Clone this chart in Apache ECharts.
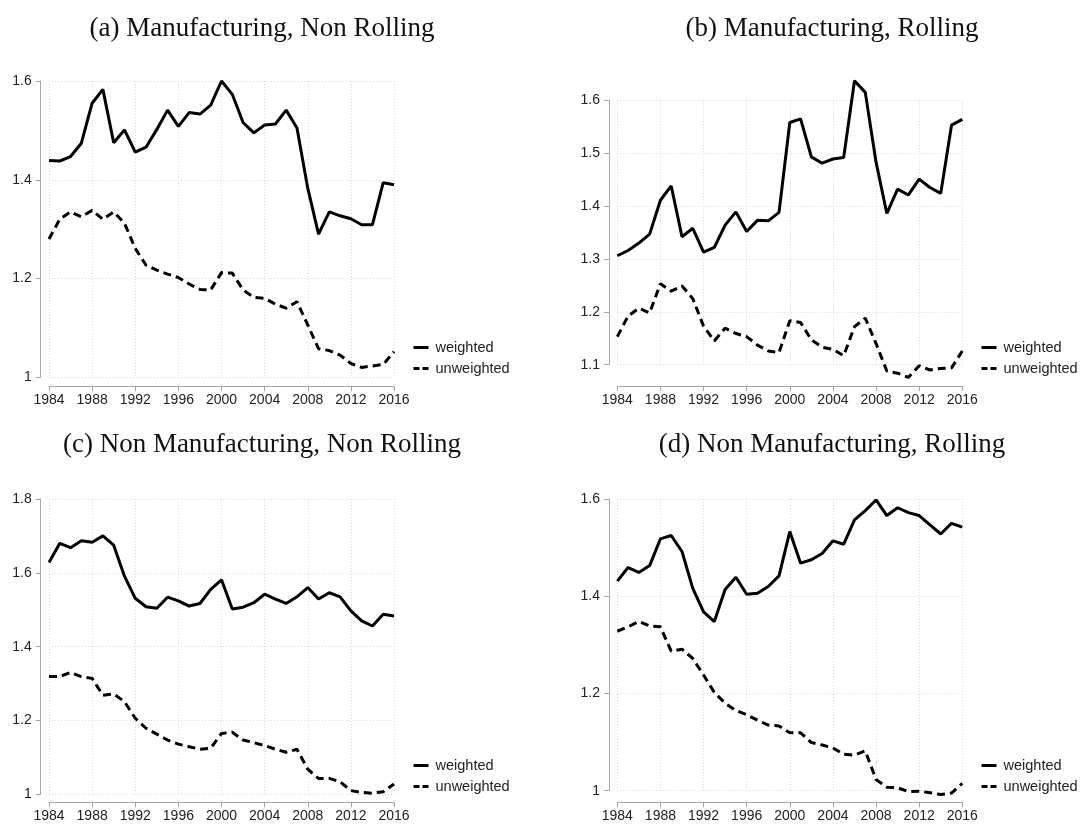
<!DOCTYPE html>
<html>
<head>
<meta charset="utf-8">
<script src="https://cdn.jsdelivr.net/npm/echarts@6/dist/echarts.min.js"></script>
<style>
  html, body { margin: 0; padding: 0; background: #fff; }
  #chart { width: 1084px; height: 826px; }
</style>
</head>
<body>
<div id="chart"></div>
<script>
// Years shown on every panel
const years = [1984,1985,1986,1987,1988,1989,1990,1991,1992,1993,1994,1995,1996,1997,1998,1999,
  2000,2001,2002,2003,2004,2005,2006,2007,2008,2009,2010,2011,2012,2013,2014,2015,2016];

// (a) Manufacturing, Non Rolling
const aWeighted = [1.439,1.438,1.447,1.474,1.555,1.583,1.475,1.501,1.456,1.466,
  1.502,1.541,1.508,1.536,1.533,1.551,1.600,1.573,1.516,1.495,
  1.511,1.513,1.541,1.505,1.383,1.290,1.335,1.327,1.321,1.309,1.309,1.394,1.390];
const aUnweighted = [1.280,1.320,1.335,1.325,1.338,1.320,1.335,1.312,1.261,1.227,
  1.217,1.209,1.202,1.189,1.178,1.177,1.212,1.211,1.177,1.162,
  1.160,1.148,1.140,1.153,1.106,1.058,1.054,1.045,1.028,1.020,1.023,1.026,1.052];

// (b) Manufacturing, Rolling
const bWeighted = [1.306,1.316,1.330,1.347,1.411,1.438,1.342,1.358,1.313,1.322,
  1.364,1.389,1.352,1.373,1.372,1.388,1.558,1.565,1.493,1.481,
  1.489,1.492,1.637,1.615,1.483,1.386,1.432,1.421,1.451,1.435,1.424,1.553,1.564];
const bUnweighted = [1.153,1.192,1.207,1.198,1.253,1.239,1.249,1.225,1.173,1.145,
  1.169,1.159,1.153,1.137,1.126,1.123,1.183,1.180,1.147,1.133,
  1.129,1.117,1.172,1.188,1.140,1.088,1.084,1.076,1.098,1.090,1.093,1.094,1.126];

// (c) Non Manufacturing, Non Rolling
const cWeighted = [1.628,1.680,1.668,1.687,1.683,1.700,1.675,1.591,1.531,1.508,
  1.504,1.534,1.524,1.510,1.517,1.555,1.581,1.502,1.507,1.519,
  1.542,1.529,1.517,1.535,1.560,1.529,1.546,1.535,1.497,1.470,1.456,1.488,1.483];
const cUnweighted = [1.319,1.319,1.330,1.319,1.314,1.268,1.272,1.251,1.206,1.179,
  1.163,1.147,1.136,1.129,1.122,1.125,1.165,1.168,1.147,1.140,
  1.132,1.122,1.114,1.122,1.068,1.043,1.043,1.034,1.010,1.005,1.003,1.007,1.028];

// (d) Non Manufacturing, Rolling
const dWeighted = [1.431,1.459,1.449,1.463,1.518,1.525,1.492,1.416,1.368,1.348,
  1.414,1.439,1.404,1.406,1.420,1.442,1.533,1.468,1.475,1.488,
  1.514,1.507,1.557,1.576,1.598,1.566,1.582,1.572,1.566,1.547,1.528,1.550,1.542];
const dUnweighted = [1.328,1.337,1.348,1.339,1.337,1.287,1.291,1.272,1.238,1.202,
  1.180,1.165,1.156,1.145,1.135,1.133,1.119,1.119,1.099,1.094,
  1.088,1.075,1.073,1.082,1.023,1.007,1.006,0.998,0.999,0.996,0.992,0.995,1.015];

const panelTitles = [
  '(a) Manufacturing, Non Rolling',
  '(b) Manufacturing, Rolling',
  '(c) Non Manufacturing, Non Rolling',
  '(d) Non Manufacturing, Rolling'
];
const seriesNames = ['weighted', 'unweighted'];

// y-axis ranges per panel: [min, max, step]
const yRanges = [[1, 1.6, 0.2], [1.1, 1.6, 0.1], [1, 1.8, 0.2], [1, 1.6, 0.2]];

// layout of each panel (plot box in pixels, axis offsets, legend spot, title centre)
const panels = [
  { left: 49,    top: 81,    width: 345, height: 296.3, xOff: 9,    yOff: 8.3, legX: 412, legY: 340, titleX: 262, titleY: 29 },
  { left: 617.3, top: 100.3, width: 345, height: 264.4, xOff: 21.3, yOff: 8.3, legX: 980, legY: 340, titleX: 832, titleY: 29 },
  { left: 49,    top: 499,   width: 345, height: 295.3, xOff: 8,    yOff: 8.3, legX: 412, legY: 758, titleX: 262, titleY: 445 },
  { left: 617.3, top: 499,   width: 345, height: 291.7, xOff: 11.6, yOff: 8.3, legX: 980, legY: 758, titleX: 832, titleY: 445 }
];

const seriesData = [
  [aWeighted, aUnweighted],
  [bWeighted, bUnweighted],
  [cWeighted, cUnweighted],
  [dWeighted, dUnweighted]
];

const AXIS_GREY = '#a6a6a6';
const GRID_GREY = '#d8d8d8';
const LABEL_FONT = { fontFamily: 'Liberation Sans, Arial, sans-serif', fontSize: 14, color: '#222' };

const grid = [], xAxis = [], yAxis = [], series = [], legend = [], graphic = [];

panels.forEach((p, i) => {
  grid.push({ left: p.left, top: p.top, width: p.width, height: p.height, containLabel: false });

  xAxis.push({
    type: 'value', gridIndex: i, min: 1984, max: 2016, interval: 4,
    offset: p.xOff,
    axisLine: { show: true, lineStyle: { color: AXIS_GREY, width: 1 } },
    axisTick: { show: true, length: 5, lineStyle: { color: AXIS_GREY } },
    axisLabel: Object.assign({ margin: 7, formatter: v => String(v) }, LABEL_FONT),
    splitLine: { show: true, lineStyle: { color: GRID_GREY, type: [1, 2], width: 1 } }
  });

  const yr = yRanges[i];
  yAxis.push({
    type: 'value', gridIndex: i, min: yr[0], max: yr[1], interval: yr[2],
    offset: p.yOff,
    axisLine: { show: true, lineStyle: { color: AXIS_GREY, width: 1 } },
    axisTick: { show: true, length: 5, lineStyle: { color: AXIS_GREY } },
    axisLabel: Object.assign({ margin: 9, formatter: v => String(+v.toFixed(2)) }, LABEL_FONT),
    splitLine: { show: true, lineStyle: { color: GRID_GREY, type: [1, 2], width: 1 } }
  });

  seriesData[i].forEach((vals, k) => {
    series.push({
      name: seriesNames[k],
      type: 'line',
      xAxisIndex: i, yAxisIndex: i,
      data: years.map((y, j) => [y, vals[j]]),
      symbol: 'none',
      clip: false,
      animation: false,
      lineStyle: { color: '#000', width: 3, type: k === 0 ? 'solid' : [8, 5] },
      itemStyle: { color: '#000' }
    });
  });

  // key: line samples only, no point markers
  legend.push({
    data: [
      { name: seriesNames[0] },
      { name: seriesNames[1], lineStyle: { type: [6, 3] } }
    ],
    orient: 'vertical',
    left: p.legX, top: p.legY,
    itemWidth: 15, itemHeight: 14, itemGap: 6,
    padding: 0,
    selectedMode: false,
    itemStyle: { opacity: 0 },
    lineStyle: { width: 3 },
    textStyle: { fontFamily: 'Liberation Sans, Arial, sans-serif', fontSize: 14.5, color: '#222', padding: [0, 0, 0, 2] }
  });

  graphic.push({
    type: 'text',
    x: p.titleX, y: p.titleY,
    style: {
      text: panelTitles[i],
      fontFamily: 'Liberation Serif, Times New Roman, serif',
      fontSize: 27,
      fill: '#111',
      align: 'center',
      verticalAlign: 'middle'
    }
  });
});

const chart = echarts.init(document.getElementById('chart'), null, { renderer: 'canvas' });
chart.setOption({
  backgroundColor: '#fff',
  animation: false,
  grid, xAxis, yAxis, series, legend, graphic
});
</script>
</body>
</html>
